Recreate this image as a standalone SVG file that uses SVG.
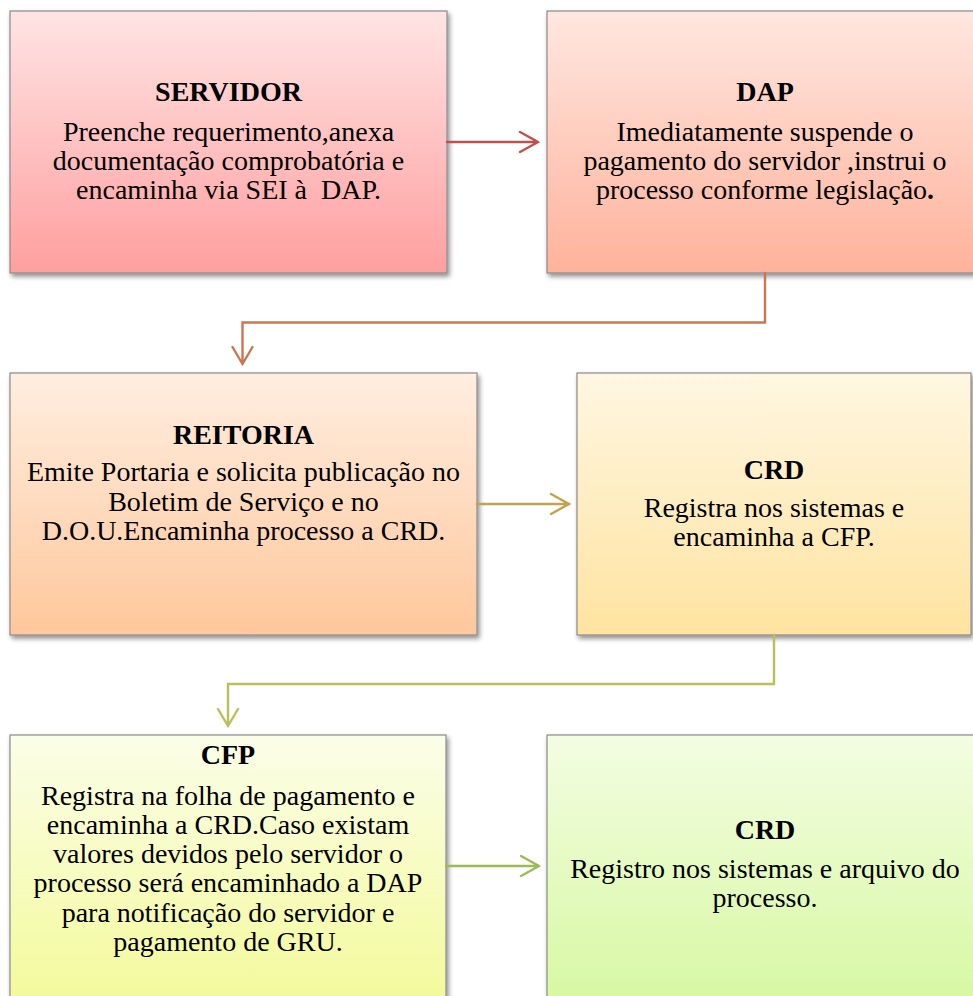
<svg xmlns="http://www.w3.org/2000/svg" width="973" height="996" viewBox="0 0 973 996">
<style>
.box{stroke:#8a8a8a;stroke-width:1.2;filter:url(#sh)}
.t{font-family:"Liberation Serif","Times New Roman",serif;font-size:28px;fill:#000;text-anchor:middle}
.b{font-weight:bold}
.c{fill:none;stroke-width:2.4;stroke-linecap:round;stroke-linejoin:miter}
</style>
<defs>
<filter id="sh" x="-5%" y="-5%" width="112%" height="115%">
<feGaussianBlur in="SourceAlpha" stdDeviation="2.5"/>
<feOffset dx="2" dy="3" result="o"/>
<feComponentTransfer><feFuncA type="linear" slope="0.45"/></feComponentTransfer>
<feMerge><feMergeNode/><feMergeNode in="SourceGraphic"/></feMerge>
</filter>
<linearGradient id="g1" x1="0" y1="0" x2="0" y2="1"><stop offset="0" stop-color="#FFE4E4"/><stop offset="1" stop-color="#FF9F9F"/></linearGradient>
<linearGradient id="g2" x1="0" y1="0" x2="0" y2="1"><stop offset="0" stop-color="#FFE7E0"/><stop offset="1" stop-color="#FFB29B"/></linearGradient>
<linearGradient id="g3" x1="0" y1="0" x2="0" y2="1"><stop offset="0" stop-color="#FFEEE0"/><stop offset="1" stop-color="#FFC79C"/></linearGradient>
<linearGradient id="g4" x1="0" y1="0" x2="0" y2="1"><stop offset="0" stop-color="#FFF7E2"/><stop offset="1" stop-color="#FFE3A0"/></linearGradient>
<linearGradient id="g5" x1="0" y1="0" x2="0" y2="1"><stop offset="0" stop-color="#FBFEE8"/><stop offset="1" stop-color="#F3FA9C"/></linearGradient>
<linearGradient id="g6" x1="0" y1="0" x2="0" y2="1"><stop offset="0" stop-color="#F3FDE2"/><stop offset="1" stop-color="#D8F8A4"/></linearGradient>
</defs>
<rect width="973" height="996" fill="#fff"/>

<g id="n1">
<rect class="box" x="10" y="11" width="437" height="262" fill="url(#g1)"/>
<text class="t b" x="228.5" y="101">SERVIDOR</text>
<text class="t" x="228.5" y="141">Preenche requerimento,anexa</text>
<text class="t" x="228.5" y="170">documentação comprobatória e</text>
<text class="t" x="228.5" y="199" xml:space="preserve">encaminha via SEI à  DAP.</text>
</g>

<g id="n2">
<rect class="box" x="547" y="11" width="437" height="262" fill="url(#g2)"/>
<text class="t b" x="765" y="101">DAP</text>
<text class="t" x="765" y="141">Imediatamente suspende o</text>
<text class="t" x="765" y="170">pagamento do servidor ,instrui o</text>
<text class="t" x="765" y="199">processo conforme legislação<tspan class="b">.</tspan></text>
</g>

<g id="n3">
<rect class="box" x="10" y="373" width="467" height="262" fill="url(#g3)"/>
<text class="t b" x="243.5" y="444">REITORIA</text>
<text class="t" x="243.5" y="481">Emite Portaria e solicita publicação no</text>
<text class="t" x="243.5" y="511">Boletim de Serviço e no</text>
<text class="t" x="243.5" y="540">D.O.U.Encaminha processo a CRD.</text>
</g>

<g id="n4">
<rect class="box" x="577" y="373" width="394" height="262" fill="url(#g4)"/>
<text class="t b" x="774" y="479">CRD</text>
<text class="t" x="774" y="517">Registra nos sistemas e</text>
<text class="t" x="774" y="546">encaminha a CFP.</text>
</g>

<g id="n5">
<rect class="box" x="10" y="735" width="436" height="262" fill="url(#g5)"/>
<text class="t b" x="228" y="764">CFP</text>
<text class="t" x="228" y="805">Registra na folha de pagamento e</text>
<text class="t" x="228" y="834">encaminha a CRD.Caso existam</text>
<text class="t" x="228" y="863">valores devidos pelo servidor o</text>
<text class="t" x="228" y="892">processo será encaminhado a DAP</text>
<text class="t" x="228" y="922">para notificação do servidor e</text>
<text class="t" x="228" y="951">pagamento de GRU.</text>
</g>

<g id="n6">
<rect class="box" x="547" y="735" width="437" height="262" fill="url(#g6)"/>
<text class="t b" x="765" y="839">CRD</text>
<text class="t" x="765" y="878">Registro nos sistemas e arquivo do</text>
<text class="t" x="765" y="907">processo.</text>
</g>

<g id="connectors">
<path class="c" stroke="#C0504D" d="M447 142H538M520 132L538 142L520 152"/>
<path class="c" stroke="#C87850" d="M765 273V322.5H242.5V364M232.5 347L242.5 364L252.5 347"/>
<path class="c" stroke="#C4A050" d="M477 504H569M551 494L569 504L551 514"/>
<path class="c" stroke="#BCBE5A" d="M774 635V684H228V726M218 709L228 726L238 709"/>
<path class="c" stroke="#9BBB59" d="M446 866H539M521 856L539 866L521 876"/>
</g>
</svg>
